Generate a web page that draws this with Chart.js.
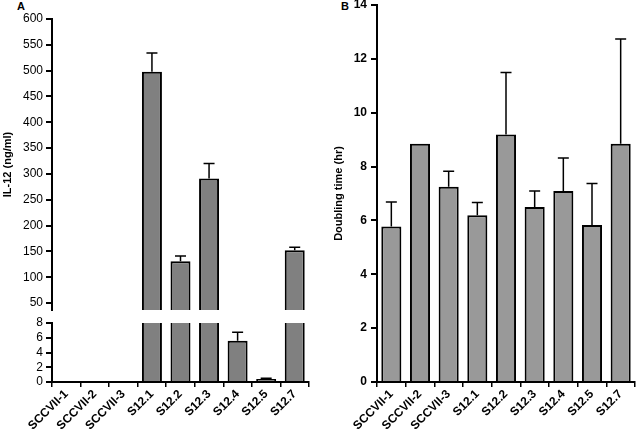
<!DOCTYPE html>
<html>
<head>
<meta charset="utf-8">
<script src="https://cdn.jsdelivr.net/npm/chart.js@4/dist/chart.umd.min.js"></script>
<style>
  body { margin: 0; background: #fff; width: 640px; height: 430px; position: relative; overflow: hidden; font-family: "Liberation Sans", Arial, sans-serif; }
  .box { position: absolute; }
  .lbl { position: absolute; font-weight: bold; font-size: 11px; color: #000; }
</style>
</head>
<body>
<div class="lbl" style="left:17px;top:0px">A</div>
<div class="lbl" style="left:341px;top:0px">B</div>
<div class="box" style="left:0;top:0;width:320px;height:330px"><canvas id="aTop"></canvas></div>
<div class="box" style="left:0;top:300px;width:320px;height:130px"><canvas id="aBot"></canvas></div>
<div class="box" style="left:320px;top:0;width:320px;height:430px"><canvas id="panelB"></canvas></div>
<script>
// lineas celulares
const lineas = ['SCCVII-1', 'SCCVII-2', 'SCCVII-3', 'S12.1', 'S12.2', 'S12.3', 'S12.4', 'S12.5', 'S12.7'];

// panel A: IL-12 (ng/ml), media y error (solo barra superior)
const il12 = [0, 0, 0, 498, 131, 291, 5.6, 0.4, 152];
const il12Err = [0, 0, 0, 36, 10, 29, 1.15, 0.1, 6];

// panel B: doubling time (hr)
const doubling = [5.77, 8.85, 7.25, 6.19, 9.19, 6.5, 7.09, 5.83, 8.85];
const doublingErr = [0.91, 0, 0.58, 0.48, 2.3, 0.59, 1.23, 1.54, 3.89];

// ticks del eje y
const ticksArriba = [50, 100, 150, 200, 250, 300, 350, 400, 450, 500, 550, 600];
const ticksAbajo = [0, 2, 4, 6, 8];
const ticksB = [0, 2, 4, 6, 8, 10, 12, 14];

const errorBars = {
  id: 'errorBars',
  afterDatasetsDraw(chart, args, opts) {
    const { ctx, chartArea } = chart;
    const yScale = chart.scales.y;
    const valores = chart.data.datasets[0].data;
    const meta = chart.getDatasetMeta(0);
    ctx.save();
    ctx.beginPath();
    ctx.rect(chartArea.left, chartArea.top - 2, chartArea.width, chartArea.bottom - chartArea.top + 2);
    ctx.clip();
    ctx.strokeStyle = '#000';
    ctx.lineWidth = 1.5;
    meta.data.forEach((bar, i) => {
      const e = opts.errores[i];
      if (!e) return;
      const y0 = yScale.getPixelForValue(valores[i]);
      const y1 = yScale.getPixelForValue(valores[i] + e);
      ctx.beginPath();
      ctx.moveTo(bar.x, y0);
      ctx.lineTo(bar.x, y1);
      ctx.moveTo(bar.x - 5.5, y1);
      ctx.lineTo(bar.x + 5.5, y1);
      ctx.stroke();
    });
    ctx.restore();
  }
};

const negro = '#000';
const familia = '"Liberation Sans", Arial, sans-serif';
const fuenteTick = { family: familia, size: 12 };
const fuenteBold = { family: familia, size: 11, weight: 'bold' };
const fuenteBold12 = { family: familia, size: 12, weight: 'bold' };

function ejeY(ancho, extra) {
  return Object.assign({
    border: { color: negro, width: 2 },
    grid: { drawOnChartArea: false, color: negro, lineWidth: 2, tickLength: 6 },
    ticks: { color: negro, font: fuenteTick, padding: 3, autoSkip: false },
    afterFit(s) { s.width = ancho; s.paddingTop = 0; s.paddingBottom = 0; }
  }, extra);
}

function ejeX(visible) {
  return {
    display: visible,
    border: { color: negro, width: 2 },
    grid: { drawOnChartArea: false, color: negro, lineWidth: 1.5, tickLength: 5 },
    ticks: { color: negro, font: fuenteBold12, maxRotation: 45, minRotation: 45, padding: 0, autoSkip: false },
    afterFit(s) {
      s.height = visible ? 48 : 0;
      s.paddingLeft = 0;
      s.paddingRight = 0;
    }
  };
}

function dataset(valores, color) {
  return {
    data: valores,
    backgroundColor: color,
    borderColor: negro,
    borderWidth: 2,
    barPercentage: 0.7,
    categoryPercentage: 1
  };
}

const base = {
  responsive: true,
  maintainAspectRatio: false,
  animation: false,
  events: []
};

new Chart(document.getElementById('aTop'), {
  type: 'bar',
  data: { labels: lineas, datasets: [dataset(il12, '#808080')] },
  options: Object.assign({}, base, {
    layout: { padding: { top: 19, bottom: 20, left: 0, right: 11 } },
    plugins: { legend: { display: false }, tooltip: { enabled: false }, errorBars: { errores: il12Err } },
    scales: {
      x: ejeX(false),
      y: ejeY(52, {
        min: 36.5, max: 600,
        afterBuildTicks(s) { s.ticks = ticksArriba.map(v => ({ value: v })); },
        title: { display: true, text: 'IL-12 (ng/ml)', color: negro, font: fuenteBold, padding: { top: 1, bottom: 0 } }
      })
    }
  }),
  plugins: [errorBars]
});

new Chart(document.getElementById('aBot'), {
  type: 'bar',
  data: { labels: lineas, datasets: [dataset(il12, '#808080')] },
  options: Object.assign({}, base, {
    layout: { padding: { top: 23, bottom: 0, left: 0, right: 11 } },
    plugins: { legend: { display: false }, tooltip: { enabled: false }, errorBars: { errores: il12Err } },
    scales: {
      x: ejeX(true),
      y: ejeY(52, {
        min: 0, max: 8,
        afterBuildTicks(s) { s.ticks = ticksAbajo.map(v => ({ value: v })); }
      })
    }
  }),
  plugins: [errorBars]
});

new Chart(document.getElementById('panelB'), {
  type: 'bar',
  data: { labels: lineas, datasets: [dataset(doubling, '#999999')] },
  options: Object.assign({}, base, {
    layout: { padding: { top: 5, bottom: 0, left: 0, right: 5 } },
    plugins: { legend: { display: false }, tooltip: { enabled: false }, errorBars: { errores: doublingErr } },
    scales: {
      x: ejeX(true),
      y: ejeY(57, {
        min: 0, max: 14,
        afterBuildTicks(s) { s.ticks = ticksB.map(v => ({ value: v })); },
        ticks: { color: negro, font: fuenteBold12, padding: 4, autoSkip: false },
        title: { display: true, text: 'Doubling time (hr)', color: negro, font: fuenteBold, padding: { top: 12, bottom: 0 } }
      })
    }
  }),
  plugins: [errorBars]
});
</script>
</body>
</html>
